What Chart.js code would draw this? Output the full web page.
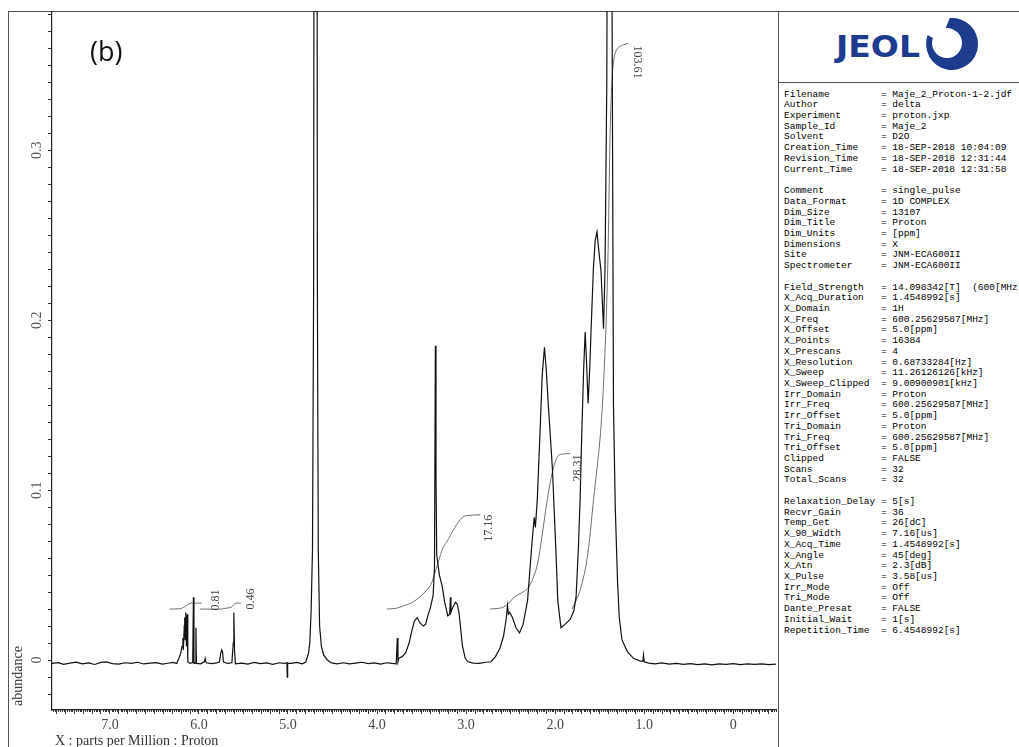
<!DOCTYPE html>
<html>
<head>
<meta charset="utf-8">
<script src="https://cdn.jsdelivr.net/npm/chart.js@4.4.1/dist/chart.umd.min.js"></script>
<style>
  html, body { margin: 0; padding: 0; background: #fff; width: 1019px; height: 747px; overflow: hidden; }
  body { position: relative; }
  #frame { position: absolute; left: 8px; top: 11px; width: 1030px; height: 760px; border-left: 1.5px solid #555; border-top: 1.5px solid #555; box-sizing: border-box; }
  #plot { position: absolute; left: 8px; top: 11px; width: 770px; height: 736px; }
  #panel { position: absolute; left: 778px; top: 11px; width: 260px; height: 760px; border-left: 1.5px solid #555; box-sizing: border-box; overflow: hidden; }
  #logo { position: absolute; left: 0; top: 0; width: 260px; height: 72px; border-bottom: 1.5px solid #555; box-sizing: border-box; }
  #params { position: absolute; left: 5px; top: 78.6px; margin: 0; font: 9.5px/10.72px "Liberation Mono", "DejaVu Sans Mono", monospace; white-space: pre; color: #000; width: 236px; overflow: hidden; }
  .lbl { position: absolute; font-family: "Liberation Serif", serif; color: #333; white-space: nowrap; }
  #tag { position: absolute; left: 90px; top: 32px; font: 27px "Open Sans", "Liberation Sans", sans-serif; color: #111; }
</style>
</head>
<body>
<div id="frame"></div>
<div id="plot"><canvas id="c" width="770" height="736"></canvas></div>
<div id="tag">(b)</div>
<div class="lbl" id="ylab" style="left:-12px; top:668px; font-size:14px; transform: rotate(-90deg); width:60px; text-align:center;">abundance</div>
<div class="lbl" style="left:55px; top:733px; font-size:14px;">X : parts per Million : Proton</div>
<div id="panel">
  <div id="logo">
    <svg width="241" height="72" viewBox="0 0 241 72">
      <text x="57" y="46" font-family="DejaVu Sans, Liberation Sans, sans-serif" font-weight="bold" font-size="31" fill="#1d3c8e" textLength="84" lengthAdjust="spacingAndGlyphs">JEOL</text>
      <path d="M170.7 7.1 A26 26 0 1 1 148.6 24.1 L153.9 26.9 A15 15 0 1 0 166.7 17.1 Z" fill="#1d3c8e"/>
    </svg>
  </div>
  <pre id="params"></pre>
</div>
<script>
// 1H spectrum: chemical shift (ppm) and abundance
const ppm = [
  7.65, 7.58, 7.52, 7.45, 7.38, 7.31, 7.24, 7.17, 7.10, 7.04, 6.97, 6.90, 6.83, 6.76, 6.69, 6.62, 6.55, 6.48, 6.41, 6.35, 6.29, 6.25,
  6.225, 6.205, 6.19, 6.18, 6.175, 6.165, 6.16, 6.155, 6.148, 6.14, 6.132, 6.125, 6.10, 6.07, 6.062, 6.056, 6.04, 6.034, 6.028,
  5.98, 5.94, 5.93, 5.92, 5.86, 5.80, 5.77, 5.755, 5.745, 5.735, 5.725, 5.68, 5.63, 5.615, 5.608, 5.600, 5.59,
  5.52, 5.45, 5.38, 5.31, 5.24, 5.17, 5.10, 5.04, 5.012, 5.008, 5.004, 4.96, 4.90, 4.84, 4.80,
  4.77, 4.755, 4.74, 4.725, 4.712, 4.70, 4.69, 4.68, 4.670, 4.660, 4.645, 4.625, 4.60, 4.56,
  4.52, 4.45, 4.38, 4.31, 4.24, 4.17, 4.10, 4.03, 3.96, 3.89, 3.83, 3.785, 3.772, 3.765, 3.755,
  3.72, 3.68, 3.64, 3.61, 3.58, 3.55, 3.52, 3.48, 3.455, 3.43, 3.40, 3.37, 3.355, 3.345, 3.338, 3.33,
  3.30, 3.27, 3.24, 3.205, 3.185, 3.175, 3.17, 3.15, 3.12, 3.10, 3.08, 3.06, 3.04, 3.01, 2.98,
  2.92, 2.85, 2.78, 2.72, 2.67, 2.62, 2.58, 2.55, 2.535, 2.525, 2.51, 2.48, 2.44, 2.40, 2.36, 2.31,
  2.26, 2.235, 2.222, 2.20, 2.17, 2.145, 2.12, 2.10, 2.08, 2.03, 2.00, 1.97, 1.935, 1.89, 1.83, 1.79,
  1.765, 1.74, 1.72, 1.70, 1.68, 1.663, 1.648, 1.63, 1.612, 1.598, 1.57, 1.55, 1.53, 1.51, 1.485, 1.457,
  1.44, 1.42, 1.405, 1.39, 1.375, 1.362, 1.345, 1.325, 1.30, 1.28, 1.25, 1.19, 1.12, 1.05, 1.015, 1.008, 1.00,
  0.95, 0.88, 0.80, 0.72, 0.64, 0.56, 0.48, 0.40, 0.32, 0.24, 0.16, 0.08, 0.00, -0.08, -0.16, -0.24, -0.32, -0.40, -0.48
];
const abundance = [
  -0.0020, -0.0015, -0.0025, -0.0018, -0.0012, -0.0022, -0.0017, -0.0026, -0.0014, -0.0011, -0.0021, -0.0024, -0.0016, -0.0020, -0.0013, -0.0023, -0.0018, -0.0015, -0.0024, -0.0019, -0.0014, -0.0020,
  0.001, 0.004, 0.008, 0.013, 0.006, 0.020, 0.025, 0.012, 0.028, 0.008, 0.027, -0.001, -0.002, -0.0015, 0.037, -0.002, -0.0018, 0.019, -0.002,
  -0.0022, -0.0010, 0.0010, -0.0016, -0.0021, -0.0017, -0.0012, 0.004, 0.006, 0.005, -0.001, -0.0020, -0.0016, 0.010, 0.028, 0.005, -0.0022,
  -0.0018, -0.0024, -0.0014, -0.0021, -0.0017, -0.0025, -0.0016, -0.0020, -0.0015, -0.010, -0.0018, -0.0020, -0.0014, -0.0022, -0.0012,
  0.004, 0.010, 0.029, 0.065, 0.22, 0.9, 2.0, 0.9, 0.22, 0.065, 0.020, 0.008, 0.003, 0.0002,
  -0.0015, -0.0022, -0.0016, -0.0023, -0.0018, -0.0013, -0.0021, -0.0017, -0.0024, -0.0016, -0.0020, -0.0022, 0.013, -0.001, 0.001,
  0.002, 0.004, 0.010, 0.017, 0.023, 0.025, 0.022, 0.020, 0.021, 0.026, 0.031, 0.038, 0.055, 0.185, 0.11, 0.062,
  0.050, 0.044, 0.034, 0.026, 0.027, 0.037, 0.028, 0.031, 0.034, 0.033, 0.028, 0.018, 0.008, 0.001, -0.0010,
  -0.0018, -0.0020, -0.0013, -0.0010, 0.002, 0.007, 0.014, 0.024, 0.032, 0.027, 0.028, 0.025, 0.019, 0.016, 0.021, 0.035,
  0.069, 0.084, 0.078, 0.095, 0.134, 0.168, 0.184, 0.171, 0.153, 0.112, 0.075, 0.035, 0.019, 0.021, 0.024, 0.029,
  0.037, 0.065, 0.094, 0.135, 0.171, 0.193, 0.176, 0.151, 0.171, 0.192, 0.231, 0.247, 0.252, 0.241, 0.229, 0.195,
  0.23, 0.34, 0.60, 0.95, 0.70, 0.40, 0.15, 0.09, 0.047, 0.025, 0.012, 0.005, 0.001, -0.0005, -0.0008, 0.003, -0.0010,
  -0.0018, -0.0022, -0.0017, -0.0024, -0.0020, -0.0026, -0.0021, -0.0027, -0.0022, -0.0028, -0.0023, -0.0026, -0.0021, -0.0027, -0.0022, -0.0026, -0.0023, -0.0027, -0.0024
];

// Integral traces (ppm, running integral drawn on the abundance scale)
const int081Ppm = [6.33, 6.22, 6.17, 6.13, 6.10, 6.07, 5.97];
const int081Val = [0.0300, 0.0302, 0.0310, 0.0325, 0.0333, 0.0335, 0.0335];
const int046Ppm = [5.99, 5.75, 5.70, 5.64, 5.61, 5.58, 5.53];
const int046Val = [0.0300, 0.0300, 0.0305, 0.0310, 0.0325, 0.0335, 0.0335];
const int1716Ppm = [3.89, 3.78, 3.71, 3.60, 3.48, 3.40, 3.37, 3.34, 3.31, 3.26, 3.20, 3.16, 3.09, 3.04, 3.00, 2.84];
const int1716Val = [0.0300, 0.0305, 0.0318, 0.0340, 0.0390, 0.0440, 0.0480, 0.0530, 0.0580, 0.0660, 0.0710, 0.0750, 0.0810, 0.0840, 0.0850, 0.0855];
const int2831Ppm = [2.73, 2.60, 2.53, 2.47, 2.38, 2.31, 2.25, 2.20, 2.15, 2.09, 2.03, 1.99, 1.96, 1.93, 1.83];
const int2831Val = [0.0300, 0.0308, 0.0330, 0.0365, 0.0395, 0.0420, 0.0480, 0.0560, 0.0720, 0.0940, 0.1110, 0.1180, 0.1205, 0.1212, 0.1215];
const int10361Ppm = [1.81, 1.72, 1.64, 1.57, 1.49, 1.44, 1.41, 1.39, 1.375, 1.36, 1.345, 1.32, 1.28, 1.18];
const int10361Val = [0.0300, 0.0410, 0.0600, 0.0940, 0.1340, 0.1820, 0.2300, 0.2900, 0.3250, 0.3420, 0.3520, 0.3580, 0.3610, 0.3630];

// Integral values and where their labels sit
const integralLabels = ['0.81', '0.46', '17.16', '28.31', '103.61'];
const labelPpm = [5.81, 5.42, 2.75, 1.75, 1.08];
const labelAbund = [0.0353, 0.0360, 0.0776, 0.113, 0.352];
const labelTurn = [-1, -1, -1, -1, 1];

// Axis labels
const yTickValues = [0, 0.1, 0.2, 0.3];
const yTickText = ['0', '0.1', '0.2', '0.3'];

// Acquisition parameters
const paramKeys = [
  'Filename', 'Author', 'Experiment', 'Sample_Id', 'Solvent', 'Creation_Time', 'Revision_Time', 'Current_Time', '',
  'Comment', 'Data_Format', 'Dim_Size', 'Dim_Title', 'Dim_Units', 'Dimensions', 'Site', 'Spectrometer', '',
  'Field_Strength', 'X_Acq_Duration', 'X_Domain', 'X_Freq', 'X_Offset', 'X_Points', 'X_Prescans', 'X_Resolution', 'X_Sweep',
  'X_Sweep_Clipped', 'Irr_Domain', 'Irr_Freq', 'Irr_Offset', 'Tri_Domain', 'Tri_Freq', 'Tri_Offset', 'Clipped', 'Scans', 'Total_Scans', '',
  'Relaxation_Delay', 'Recvr_Gain', 'Temp_Get', 'X_90_Width', 'X_Acq_Time', 'X_Angle', 'X_Atn', 'X_Pulse', 'Irr_Mode', 'Tri_Mode',
  'Dante_Presat', 'Initial_Wait', 'Repetition_Time'
];
const paramValues = [
  'Maje_2_Proton-1-2.jdf', 'delta', 'proton.jxp', 'Maje_2', 'D2O', '18-SEP-2018 10:04:09', '18-SEP-2018 12:31:44', '18-SEP-2018 12:31:58', '',
  'single_pulse', '1D COMPLEX', '13107', 'Proton', '[ppm]', 'X', 'JNM-ECA600II', 'JNM-ECA600II', '',
  '14.098342[T]  (600[MHz])', '1.4548992[s]', '1H', '600.25629587[MHz]', '5.0[ppm]', '16384', '4', '0.68733284[Hz]', '11.26126126[kHz]',
  '9.00900901[kHz]', 'Proton', '600.25629587[MHz]', '5.0[ppm]', 'Proton', '600.25629587[MHz]', '5.0[ppm]', 'FALSE', '32', '32', '',
  '5[s]', '36', '26[dC]', '7.16[us]', '1.4548992[s]', '45[deg]', '2.3[dB]', '3.58[us]', 'Off', 'Off',
  'FALSE', '1[s]', '6.4548992[s]'
];

document.getElementById('params').textContent = paramKeys.map((k, i) =>
  k ? k.padEnd(17, ' ') + '= ' + paramValues[i] : ''
).join('\n');

const pts = (xs, ys) => xs.map((v, i) => ({ x: v, y: ys[i] }));

const integralStyle = { borderColor: '#707070', borderWidth: 1, pointRadius: 0, tension: 0.35, fill: false, order: 2, clip: 0 };

const annotate = {
  id: 'annotate',
  afterDraw(chart) {
    const { ctx, chartArea, scales: { x, y } } = chart;
    ctx.save();
    // fine ticks along the shift axis
    ctx.strokeStyle = '#333';
    ctx.lineWidth = 1;
    ctx.beginPath();
    for (let i = -24; i <= 382; i++) {
      if (i % 5 === 0) continue;
      const px = Math.round(x.getPixelForValue(i / 50)) + 0.5;
      ctx.moveTo(px, chartArea.bottom);
      ctx.lineTo(px, chartArea.bottom + 2);
    }
    ctx.stroke();
    // rotated abundance tick labels
    ctx.font = '14px "Liberation Serif", serif';
    ctx.fillStyle = '#555';
    ctx.textAlign = 'center';
    ctx.textBaseline = 'middle';
    yTickValues.forEach((v, i) => {
      ctx.save();
      ctx.translate(chartArea.left - 15, y.getPixelForValue(v));
      ctx.rotate(-Math.PI / 2);
      ctx.fillText(yTickText[i], 0, 0);
      ctx.restore();
    });
    // integral values
    ctx.font = '12px "Liberation Serif", serif';
    ctx.fillStyle = '#444';
    integralLabels.forEach((t, i) => {
      ctx.save();
      ctx.translate(x.getPixelForValue(labelPpm[i]), y.getPixelForValue(labelAbund[i]));
      ctx.rotate(labelTurn[i] * Math.PI / 2);
      ctx.fillText(t, 0, 0);
      ctx.restore();
    });
    ctx.restore();
  }
};

new Chart(document.getElementById('c'), {
  type: 'line',
  data: {
    datasets: [
      { data: pts(ppm, abundance), borderColor: '#111', borderWidth: 1.2, pointRadius: 0, tension: 0, fill: false, order: 1, clip: 0 },
      Object.assign({ data: pts(int081Ppm, int081Val) }, integralStyle),
      Object.assign({ data: pts(int046Ppm, int046Val) }, integralStyle),
      Object.assign({ data: pts(int1716Ppm, int1716Val) }, integralStyle),
      Object.assign({ data: pts(int2831Ppm, int2831Val) }, integralStyle),
      Object.assign({ data: pts(int10361Ppm, int10361Val) }, integralStyle)
    ]
  },
  options: {
    responsive: false,
    animation: false,
    devicePixelRatio: 1,
    layout: { padding: { left: 0, right: 2, top: 0, bottom: 0 } },
    plugins: { legend: { display: false }, tooltip: { enabled: false } },
    scales: {
      x: {
        type: 'linear',
        reverse: true,
        min: -0.48,
        max: 7.65,
        afterFit: s => { s.height = 37; },
        border: { display: true, color: '#222', width: 1.2 },
        grid: { drawOnChartArea: false, drawTicks: true, tickLength: 4, color: '#333' },
        ticks: {
          stepSize: 0.1,
          autoSkip: false,
          includeBounds: false,
          maxRotation: 0,
          minRotation: 0,
          padding: 3,
          color: '#444',
          font: { family: '"Liberation Serif", serif', size: 14 },
          callback: v => {
            const r = Math.round(v);
            if (Math.abs(v - r) > 1e-6) return '';
            return r === 0 ? '0' : r.toFixed(1);
          }
        }
      },
      y: {
        type: 'linear',
        min: -0.0294,
        max: 0.382,
        afterFit: s => { s.width = 44; },
        border: { display: true, color: '#222', width: 1.2 },
        grid: { drawOnChartArea: false, drawTicks: true, tickLength: 4, color: '#333' },
        ticks: { stepSize: 0.01, includeBounds: false, display: false }
      }
    }
  },
  plugins: [annotate]
});
</script>
</body>
</html>
